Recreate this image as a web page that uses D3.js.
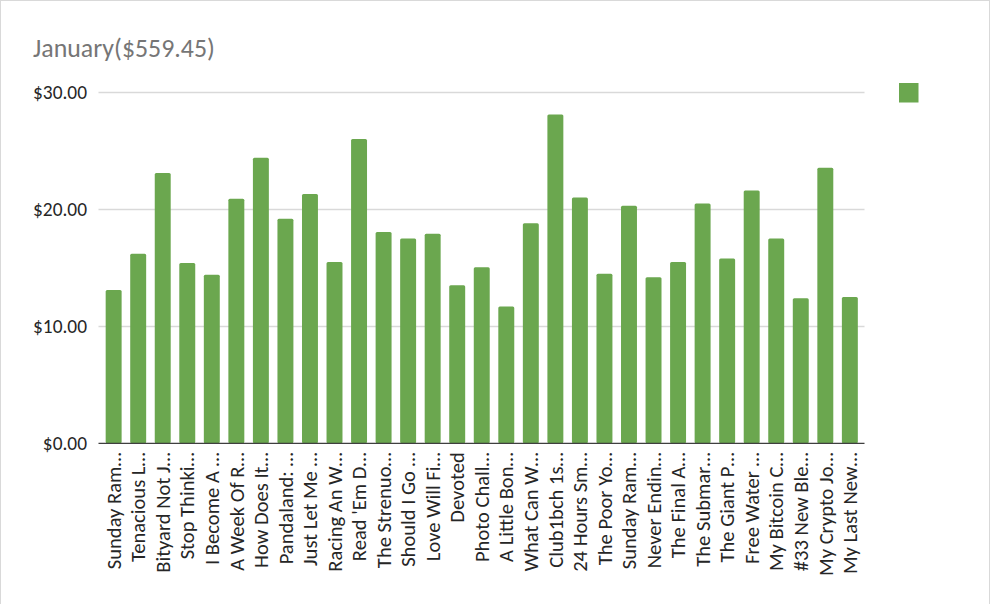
<!DOCTYPE html>
<html>
<head>
<meta charset="utf-8">
<script src="https://cdn.jsdelivr.net/npm/d3@7"></script>
<style>
  html, body { margin: 0; padding: 0; background: #fff; }
  svg { display: block; }
  text { font-family: Carlito, Lato, "Open Sans", sans-serif; }
</style>
</head>
<body>
<svg id="chart" width="992" height="604"></svg>
<script>
const chartTitle = "January($559.45)";
const categories = [
  "Sunday Ram…", "Tenacious L…", "Bityard Not J…", "Stop Thinki…", "I Become A …",
  "A Week Of R…", "How Does It…", "Pandaland: …", "Just Let Me …", "Racing An W…",
  "Read 'Em D…", "The Strenuo…", "Should I Go …", "Love Will Fi…", "Devoted",
  "Photo Chall…", "A Little Bon…", "What Can W…", "Club1bch 1s…", "24 Hours Sm…",
  "The Poor Yo…", "Sunday Ram…", "Never Endin…", "The Final A…", "The Submar…",
  "The Giant P…", "Free Water …", "My Bitcoin C…", "#33 New Ble…", "My Crypto Jo…",
  "My Last New…"
];
const earnings = [
  13.1, 16.2, 23.1, 15.4, 14.4,
  20.9, 24.4, 19.2, 21.3, 15.5,
  26.0, 18.05, 17.5, 17.9, 13.5,
  15.05, 11.7, 18.8, 28.1, 21.0,
  14.5, 20.3, 14.2, 15.5, 20.5,
  15.8, 21.6, 17.5, 12.4, 23.55,
  12.5
];
const yTicks = [0, 10, 20, 30];

const svg = d3.select("#chart");

// chart border
svg.append("rect")
  .attr("x", 0.5).attr("y", 0.5)
  .attr("width", 989).attr("height", 640)
  .attr("fill", "#fff").attr("stroke", "#d9d9d9");

const plotLeft = 98.5, plotRight = 864.5;
const x = d3.scaleBand()
  .domain(d3.range(categories.length))
  .range([101.5, 862])
  .paddingInner(0.35)
  .paddingOuter(0.17);
const y = d3.scaleLinear().domain([0, 30]).range([443.3, 92.3]);

// gridlines
svg.append("g")
  .selectAll("line")
  .data(yTicks.filter(t => t > 0))
  .join("line")
  .attr("x1", plotLeft).attr("x2", plotRight)
  .attr("y1", d => Math.round(y(d)) + 0.5).attr("y2", d => Math.round(y(d)) + 0.5)
  .attr("stroke", "#d9d9d9").attr("stroke-width", 1.3);

// bars
svg.append("g")
  .selectAll("rect")
  .data(earnings)
  .join("rect")
  .attr("x", (d, i) => x(i))
  .attr("width", x.bandwidth())
  .attr("y", d => y(d))
  .attr("height", d => y(0) - y(d))
  .attr("rx", 1.5)
  .attr("fill", "#6ba74f");

// x axis line
svg.append("line")
  .attr("x1", plotLeft).attr("x2", plotRight)
  .attr("y1", y(0)).attr("y2", y(0))
  .attr("stroke", "#3f3f3f").attr("stroke-width", 1.3);

// y axis labels
const yAxis = d3.axisLeft(y).tickValues(yTicks).tickSize(0).tickPadding(0)
  .tickFormat(d => "$" + d3.format(".2f")(d));
const yg = svg.append("g").attr("transform", "translate(87,0)").call(yAxis);
yg.select(".domain").remove();
yg.selectAll("text")
  .attr("font-family", "Carlito, Lato, 'Open Sans', sans-serif")
  .attr("font-size", 17)
  .attr("fill", "#262626");
(function () {
  const len = yg.select("text:last-of-type").node() ? yg.selectAll("text").nodes()[3].getComputedTextLength() : 54;
  yg.selectAll("text").attr("font-size", 17 * 54 / len);
})();

// x axis labels
const xAxis = d3.axisBottom(x).tickSize(0).tickFormat(i => categories[i]);
const xg = svg.append("g").attr("transform", `translate(0,${y(0)})`).call(xAxis);
xg.select(".domain").remove();
xg.selectAll("text")
  .attr("font-family", "Carlito, Lato, 'Open Sans', sans-serif")
  .attr("font-size", 16)
  .attr("fill", "#262626")
  .attr("text-anchor", "end")
  .attr("transform", "rotate(-90)")
  .attr("x", -9)
  .attr("y", 0)
  .attr("dy", "0.35em");

// fit x label size to reference length of first label (~117px)
(function () {
  const first = xg.select("text").node();
  const len = first.getComputedTextLength();
  const fs = 16 * 117 / len;
  xg.selectAll("text").attr("font-size", fs);
})();

// title
const title = svg.append("text")
  .attr("x", 33).attr("y", 56.5)
  .attr("font-size", 22)
  .attr("fill", "#767676")
  .text(chartTitle);
(function () {
  const len = title.node().getComputedTextLength();
  title.attr("font-size", 22 * 182 / len);
})();

// legend (empty series name)
svg.append("rect")
  .attr("x", 899).attr("y", 83)
  .attr("width", 19.5).attr("height", 19.5)
  .attr("fill", "#6ba74f");
</script>
</body>
</html>
